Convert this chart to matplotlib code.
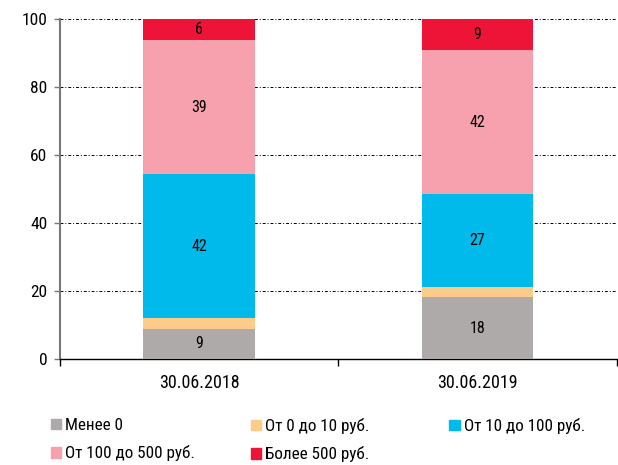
import matplotlib
matplotlib.use("Agg")
import matplotlib.pyplot as plt
import matplotlib.patches as patches
from matplotlib import font_manager
import numpy as np

# pick a narrow face if one is installed, otherwise Roboto
names = {f.name for f in font_manager.fontManager.ttflist}
family = "Roboto"
for cand in ["Roboto Condensed", "Liberation Sans Narrow", "Open Sans Condensed"]:
    if cand in names:
        family = cand
        break
plt.rcParams["font.family"] = [family, "DejaVu Sans"]

dates = ["30.06.2018", "30.06.2019"]
series = ["Менее 0", "От 0 до 10 руб.", "От 10 до 100 руб.",
          "От 100 до 500 руб.", "Более 500 руб."]
values_2018 = [8.9, 3.1, 42.4, 39.4, 6.2]
values_2019 = [18.1, 3.1, 27.2, 42.4, 9.2]
colors = ["#AEAAA9", "#FDCB8A", "#00BAEB", "#F7A1AE", "#EE1437"]
show_label = [True, False, True, True, True]

data = np.array([values_2018, values_2019]).T

fig = plt.figure(figsize=(6.18, 4.65), dpi=100)
ax = fig.add_axes([0.097, 0.228, 0.901, 0.731])

x = np.arange(len(dates))
bottom = np.zeros(len(dates))
for i, name in enumerate(series):
    ax.bar(x, data[i], 0.4, bottom=bottom, color=colors[i], label=name,
           zorder=3)
    if show_label[i]:
        for j in range(len(dates)):
            ax.text(x[j], bottom[j] + data[i][j] / 2, f"{data[i][j]:.0f}",
                    ha="center", va="center", fontsize=11.5, zorder=4)
    bottom += data[i]

ax.set_xlim(-0.5, 1.5)
ax.set_ylim(0, 100)
ax.set_yticks(range(0, 101, 20))
ax.tick_params(axis="y", labelsize=12.5, length=4, width=1, color="#777777",
               pad=5)
ax.set_xticks(x)
ax.set_xticklabels(dates, fontsize=13)
ax.tick_params(axis="x", which="major", length=0, pad=11)
ax.set_xticks([-0.5, 0.5, 1.5], minor=True)
ax.tick_params(axis="x", which="minor", length=5, width=1)

ax.grid(True, axis="y", linestyle=(0, (3, 2, 1, 2)), color="black",
        linewidth=0.7, zorder=1)
ax.spines["top"].set_visible(False)
ax.spines["right"].set_visible(False)
ax.spines["left"].set_color("#777777")
ax.spines["left"].set_linewidth(1.5)
ax.spines["bottom"].set_linewidth(1)

# legend: three columns placed separately, filled row by row
columns = [[0, 3], [1, 4], [2]]
col_x = [0.082, 0.406, 0.727]
for cx, idx in zip(col_x, columns):
    handles = [patches.Patch(color=colors[k]) for k in idx]
    labels = [series[k] for k in idx]
    fig.legend(handles, labels, loc="upper left",
               bbox_to_anchor=(cx, 0.101), frameon=False,
               fontsize=12.3, handlelength=0.6, handleheight=0.6,
               handletextpad=0.25, labelspacing=0.72,
               borderpad=0, borderaxespad=0)

fig.savefig("out.png", dpi=100)
